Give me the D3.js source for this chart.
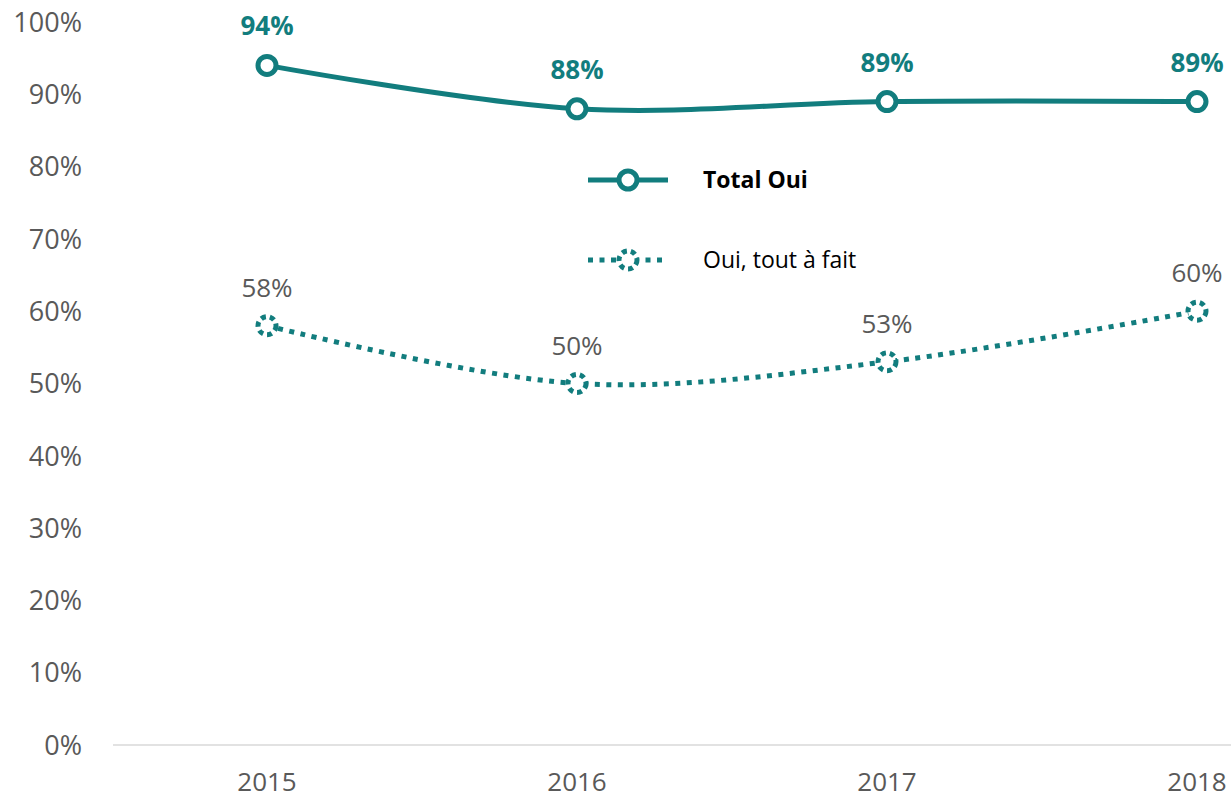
<!DOCTYPE html>
<html><head><meta charset="utf-8">
<script src="https://cdn.jsdelivr.net/npm/d3@7"></script>
<style>body{margin:0;background:#fff}svg{display:block}</style>
</head><body>
<svg id="c" width="1231" height="800"></svg>
<script>
const categories = ["2015","2016","2017","2018"];
const totalOui = [94,88,89,89];
const toutAFait = [58,50,53,60];
const yTicks = [0,10,20,30,40,50,60,70,80,90,100];
const seriesNames = ["Total Oui","Oui, tout à fait"];

const teal = "#127D7E";
const font = "'Open Sans', sans-serif";
const svg = d3.select("#c");
const x = d3.scalePoint().domain(categories).range([267,1197]);
const y = d3.scaleLinear().domain([0,100]).range([745,22]);

// y labels
svg.append("g").selectAll("text").data(yTicks).join("text")
  .attr("x",82).attr("y",d=>y(d)).attr("dy","0.36em")
  .attr("text-anchor","end").attr("font-family",font).attr("font-size",27)
  .attr("fill","#595959").text(d=>d+"%");
// baseline axis
svg.append("line").attr("x1",113).attr("x2",1231).attr("y1",y(0)).attr("y2",y(0))
  .attr("stroke","#D9D9D9").attr("stroke-width",1.5);
// x labels
svg.append("g").selectAll("text").data(categories).join("text")
  .attr("x",d=>x(d)).attr("y",791).attr("text-anchor","middle")
  .attr("font-family",font).attr("font-size",26).attr("fill","#595959").text(d=>d);

const line = d3.line().x((d,i)=>x(categories[i])).y(d=>y(d)).curve(d3.curveCardinal.tension(0));

// Total Oui
svg.append("path").datum(totalOui).attr("d",line).attr("fill","none")
  .attr("stroke",teal).attr("stroke-width",5);
svg.append("g").selectAll("circle").data(totalOui).join("circle")
  .attr("cx",(d,i)=>x(categories[i])).attr("cy",d=>y(d)).attr("r",9)
  .attr("fill","#fff").attr("stroke",teal).attr("stroke-width",5);
svg.append("g").selectAll("text").data(totalOui).join("text")
  .attr("x",(d,i)=>x(categories[i])).attr("y",d=>y(d)-30).attr("text-anchor","middle")
  .attr("font-family",font).attr("font-weight","bold").attr("font-size",26)
  .attr("fill",teal).text(d=>d+"%");

// Oui tout à fait
svg.append("path").datum(toutAFait).attr("d",line).attr("fill","none")
  .attr("stroke",teal).attr("stroke-width",5).attr("stroke-dasharray","5 6.5");
svg.append("g").selectAll("circle").data(toutAFait).join("circle")
  .attr("cx",(d,i)=>x(categories[i])).attr("cy",d=>y(d)).attr("r",9)
  .attr("fill","#fff").attr("stroke",teal).attr("stroke-width",5).attr("stroke-dasharray","5 4");
svg.append("g").selectAll("text").data(toutAFait).join("text")
  .attr("x",(d,i)=>x(categories[i])).attr("y",d=>y(d)-29).attr("text-anchor","middle")
  .attr("font-family",font).attr("font-size",26)
  .attr("fill","#595959").text(d=>d+"%");

// legend
const lg = svg.append("g");
[0,1].forEach(i=>{
  const ly = 180 + i*80;
  lg.append("line").attr("x1",588).attr("x2",668).attr("y1",ly).attr("y2",ly)
    .attr("stroke",teal).attr("stroke-width",5).attr("stroke-dasharray",i?"5 6.5":null);
  lg.append("circle").attr("cx",628).attr("cy",ly).attr("r",9).attr("fill","#fff")
    .attr("stroke",teal).attr("stroke-width",5).attr("stroke-dasharray",i?"5 4":null);
  lg.append("text").attr("x",703).attr("y",ly).attr("dy","0.36em")
    .attr("font-family",font).attr("font-size",23).attr("font-weight",i?"normal":"bold")
    .attr("fill","#000").text(seriesNames[i]);
});
</script>
</body></html>
